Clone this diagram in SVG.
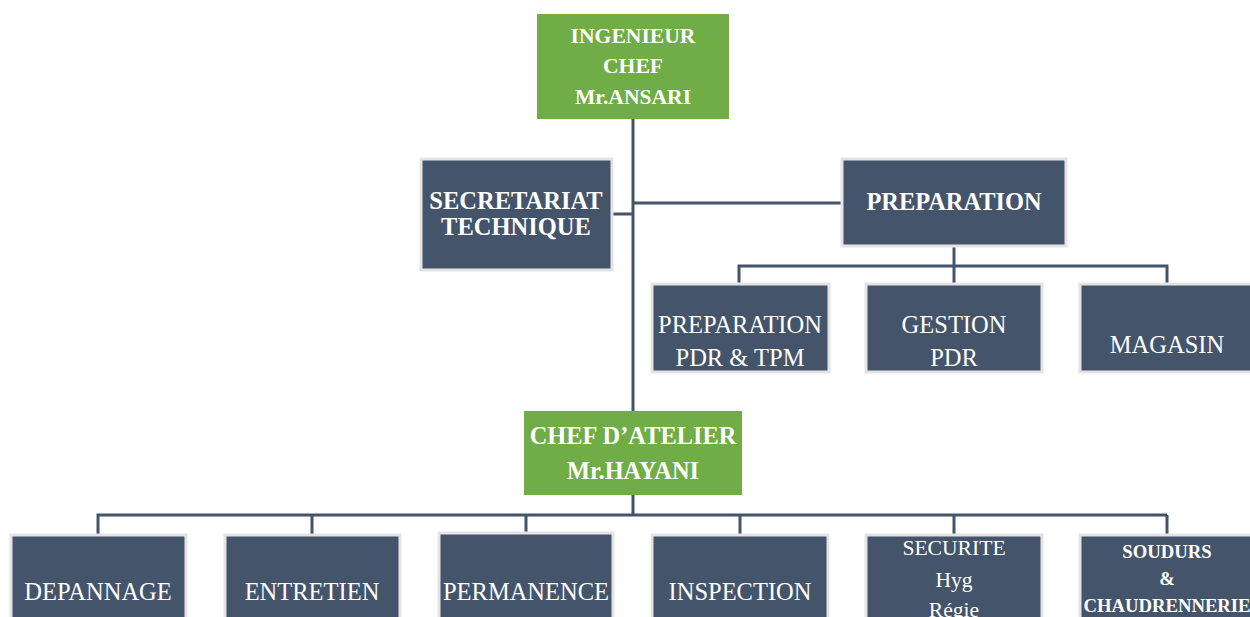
<svg xmlns="http://www.w3.org/2000/svg" width="1250" height="617" viewBox="0 0 1250 617">
<style>
.g{fill:#70AD47}
.b{fill:#44546A;stroke:#E4E4E4;stroke-width:3}
.t{font-family:"Liberation Serif","Times New Roman",serif;fill:#fff;text-anchor:middle}
.bd{font-weight:bold}
.c{fill:none;stroke:#44546A;stroke-width:3}
</style>
<rect width="1250" height="617" fill="#fff"/>
<g id="connectors">
<path class="c" d="M633 119V411"/>
<path class="c" d="M612 214H633"/>
<path class="c" d="M633 203H842"/>
<path class="c" d="M954 246V266M739 284V266H1167V284M954 266V284"/>
<path class="c" d="M633 495V515H98V535M312 515V535M526 515V533M740 515V535M954 515V535M1167 515V535M633 515H1167"/>
</g>
<g id="ingenieur">
<rect class="g" x="537" y="14" width="192" height="105"/>
<text class="t bd" font-size="21.6"><tspan x="633" y="43">INGENIEUR</tspan><tspan x="633" y="73">CHEF</tspan><tspan x="633" y="104">Mr.ANSARI</tspan></text>
</g>
<g id="secretariat">
<rect class="b" x="421" y="159" width="191" height="111"/>
<text class="t bd" font-size="24.5"><tspan x="516" y="209">SECRETARIAT</tspan><tspan x="516" y="235">TECHNIQUE</tspan></text>
</g>
<g id="preparation">
<rect class="b" x="842" y="159" width="224" height="87"/>
<text class="t bd" font-size="24.4" x="954" y="210">PREPARATION</text>
</g>
<g id="prep-pdr-tpm">
<rect class="b" x="652" y="284" width="177" height="88"/>
<text class="t" font-size="24.5"><tspan x="740" y="333">PREPARATION</tspan><tspan x="740" y="366">PDR &amp; TPM</tspan></text>
</g>
<g id="gestion-pdr">
<rect class="b" x="866" y="284" width="176" height="88"/>
<text class="t" font-size="24.5"><tspan x="954" y="333">GESTION</tspan><tspan x="954" y="366">PDR</tspan></text>
</g>
<g id="magasin">
<rect class="b" x="1080" y="284" width="176" height="88"/>
<text class="t" font-size="24.5" x="1167" y="353">MAGASIN</text>
</g>
<g id="chef-atelier">
<rect class="g" x="524" y="411" width="218" height="84"/>
<text class="t bd" font-size="24.4"><tspan x="633" y="444">CHEF D’ATELIER</tspan><tspan x="633" y="479">Mr.HAYANI</tspan></text>
</g>
<g id="depannage">
<rect class="b" x="11" y="535" width="175" height="90"/>
<text class="t" font-size="24.5" x="98" y="600">DEPANNAGE</text>
</g>
<g id="entretien">
<rect class="b" x="225" y="535" width="175" height="90"/>
<text class="t" font-size="24.5" x="312" y="600">ENTRETIEN</text>
</g>
<g id="permanence">
<rect class="b" x="439" y="533" width="174" height="92"/>
<text class="t" font-size="24.5" x="526" y="600">PERMANENCE</text>
</g>
<g id="inspection">
<rect class="b" x="652" y="535" width="176" height="90"/>
<text class="t" font-size="24.5" x="740" y="600">INSPECTION</text>
</g>
<g id="securite">
<rect class="b" x="866" y="535" width="176" height="90"/>
<text class="t" font-size="21.6"><tspan x="954" y="555">SECURITE</tspan><tspan x="954" y="587">Hyg</tspan><tspan x="954" y="617">Régie</tspan></text>
</g>
<g id="soudurs">
<rect class="b" x="1080" y="535" width="176" height="90"/>
<text class="t bd" font-size="18.7"><tspan x="1167" y="558">SOUDURS</tspan><tspan x="1167" y="585">&amp;</tspan><tspan x="1167" y="612">CHAUDRENNERIE</tspan></text>
</g>
</svg>
